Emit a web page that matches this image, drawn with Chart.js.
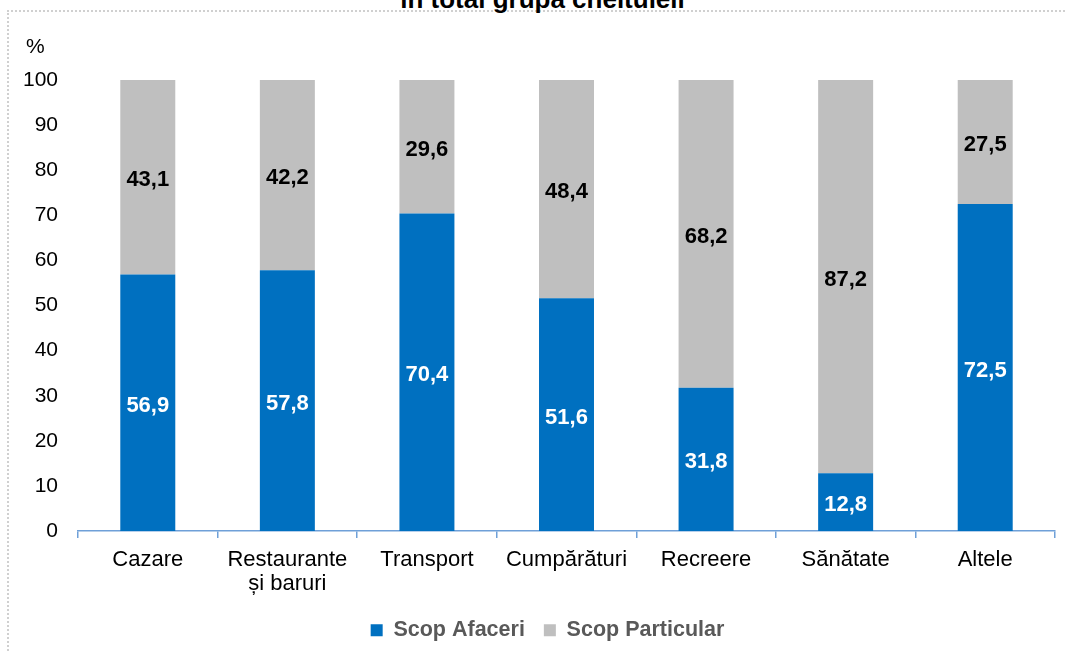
<!DOCTYPE html>
<html>
<head>
<meta charset="utf-8">
<script src="https://cdn.jsdelivr.net/npm/chart.js@4"></script>
<style>
  html, body { margin: 0; padding: 0; background: #fff; overflow: hidden; }
  #wrap { position: relative; width: 1065px; height: 653px; overflow: hidden; }
  #frame { position: absolute; left: 7px; top: 10px; width: 1070px; height: 700px;
           border-left: 2px dotted #d0d0d0; border-top: 2px dotted #d0d0d0; box-sizing: border-box; }
  #title { position: absolute; left: 0; width: 1085px; top: -16px; text-align: center; line-height: 26px;
           font: bold 26px "Liberation Sans", Arial, sans-serif; color: #000; white-space: nowrap; }
  canvas { position: absolute; left: 0; top: 0; }
</style>
</head>
<body>
<div id="wrap">
  <div id="frame"></div>
  <div id="title">în total grupă cheltuieli</div>
  <canvas id="c" width="1065" height="653"></canvas>
</div>
<script>
const categories = ["Cazare", ["Restaurante", "și baruri"], "Transport", "Cumpărături", "Recreere", "Sănătate", "Altele"];
const scopAfaceri = [56.9, 57.8, 70.4, 51.6, 31.8, 12.8, 72.5];
const scopParticular = [43.1, 42.2, 29.6, 48.4, 68.2, 87.2, 27.5];
const yTicks = [0, 10, 20, 30, 40, 50, 60, 70, 80, 90, 100];
const unitLabel = "%";

const FONT = '"Liberation Sans", Arial, sans-serif';
const AXIS_COLOR = '#6FA0D8';

const labelPlugin = {
  id: 'barLabels',
  afterLayout(chart) {
    // shift the legend block slightly to the right, as in the reference
    if (chart.legend) { chart.legend.left += 20; chart.legend.right += 20; }
  },
  afterDatasetsDraw(chart) {
    const ctx = chart.ctx;
    ctx.save();
    ctx.font = 'bold 22px ' + FONT;
    ctx.textAlign = 'center';
    ctx.textBaseline = 'middle';
    chart.data.datasets.forEach((ds, di) => {
      const meta = chart.getDatasetMeta(di);
      meta.data.forEach((bar, i) => {
        const v = ds.data[i];
        ctx.fillStyle = di === 0 ? '#ffffff' : '#000000';
        ctx.fillText(v.toFixed(1).replace('.', ','), bar.x, (bar.y + bar.base) / 2 + 3);
      });
    });
    ctx.font = '21px ' + FONT;
    ctx.fillStyle = '#000';
    ctx.textAlign = 'left';
    ctx.textBaseline = 'middle';
    ctx.fillText(unitLabel, 26, 47);
    ctx.restore();
  }
};

new Chart(document.getElementById('c'), {
  type: 'bar',
  data: {
    labels: categories,
    datasets: [
      { label: 'Scop Afaceri', data: scopAfaceri, backgroundColor: '#0070C0', borderWidth: 0,
        barPercentage: 0.394, categoryPercentage: 1 },
      { label: 'Scop Particular', data: scopParticular, backgroundColor: '#BFBFBF', borderWidth: 0,
        barPercentage: 0.394, categoryPercentage: 1 }
    ]
  },
  options: {
    responsive: false,
    animation: false,
    layout: { padding: { top: 80, right: 10, left: 0, bottom: 2 } },
    plugins: {
      legend: {
        position: 'bottom',
        labels: {
          boxWidth: 12, boxHeight: 12, padding: 19,
          color: '#595959',
          font: { family: FONT, size: 21.5, weight: 'bold', lineHeight: 1.0 }
        }
      },
      tooltip: { enabled: false },
      title: { display: false }
    },
    scales: {
      x: {
        stacked: true,
        afterFit(scale) { scale.height -= 6; },
        grid: { display: true, offset: true, drawOnChartArea: false, drawTicks: true, tickLength: 7, color: AXIS_COLOR, lineWidth: 1.5 },
        border: { display: true, color: AXIS_COLOR, width: 1.5 },
        ticks: { color: '#000', font: { family: FONT, size: 22, lineHeight: 1.1 }, padding: 10, maxRotation: 0, autoSkip: false }
      },
      y: {
        stacked: true,
        min: 0, max: 100,
        afterBuildTicks(scale) { scale.ticks = yTicks.map(v => ({ value: v })); },
        afterFit(scale) { scale.width = 78; },
        grid: { display: false, drawTicks: false },
        border: { display: false },
        ticks: { color: '#000', font: { family: FONT, size: 21 }, padding: 20 }
      }
    }
  },
  plugins: [labelPlugin]
});
</script>
</body>
</html>
